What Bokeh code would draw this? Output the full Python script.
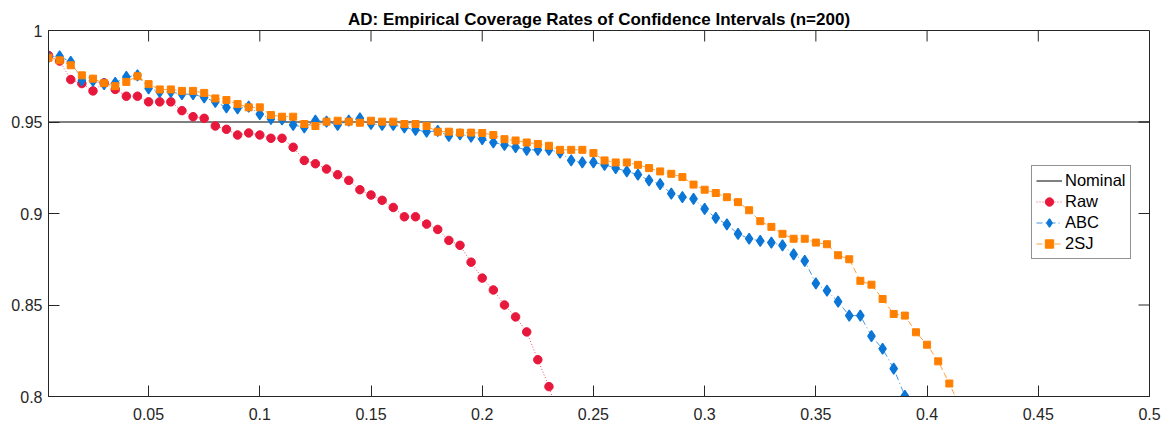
from bokeh.plotting import figure
from bokeh.models import (Range1d, FixedTicker, CustomJSTickFormatter,
                          Legend, LegendItem)
from bokeh.embed import file_html
from bokeh.resources import INLINE

# ---------------- data ----------------
alpha = [0.005, 0.01, 0.015, 0.02, 0.025, 0.03, 0.035, 0.04, 0.045, 0.05,
         0.055, 0.06, 0.065, 0.07, 0.075, 0.08, 0.085, 0.09, 0.095, 0.1,
         0.105, 0.11, 0.115, 0.12, 0.125, 0.13, 0.135, 0.14, 0.145, 0.15,
         0.155, 0.16, 0.165, 0.17, 0.175, 0.18, 0.185, 0.19, 0.195, 0.2,
         0.205, 0.21, 0.215, 0.22, 0.225, 0.23, 0.235, 0.24, 0.245, 0.25,
         0.255, 0.26, 0.265, 0.27, 0.275, 0.28, 0.285, 0.29, 0.295, 0.3,
         0.305, 0.31, 0.315, 0.32, 0.325, 0.33, 0.335, 0.34, 0.345, 0.35,
         0.355, 0.36, 0.365, 0.37, 0.375, 0.38, 0.385, 0.39, 0.395, 0.4,
         0.405, 0.41, 0.415]

raw = [0.9864, 0.9833, 0.9732, 0.9710, 0.9670, 0.9714, 0.9678, 0.9641, 0.9641, 0.9610,
       0.9610, 0.9610, 0.9562, 0.9529, 0.9520, 0.9478, 0.9460, 0.9429, 0.9440, 0.9429,
       0.9411, 0.9411, 0.9362, 0.9290, 0.9272, 0.9243, 0.9212, 0.9181, 0.9130, 0.9101,
       0.9072, 0.9033, 0.8982, 0.8982, 0.8942, 0.8913, 0.8853, 0.8826, 0.8734, 0.8647,
       0.8582, 0.8500, 0.8435, 0.8353, 0.8201, 0.8054, 0.7870]

abc = [0.9855, 0.9859, 0.9828, 0.9728, 0.9725, 0.9707, 0.9714, 0.9746, 0.9755, 0.9683,
       0.9665, 0.9665, 0.9652, 0.9652, 0.9634, 0.9610, 0.9580, 0.9574, 0.9584, 0.9543,
       0.9517, 0.9514, 0.9484, 0.9471, 0.9507, 0.9502, 0.9484, 0.9507, 0.9520, 0.9489,
       0.9484, 0.9484, 0.9471, 0.9457, 0.9447, 0.9451, 0.9424, 0.9432, 0.9420, 0.9406,
       0.9388, 0.9375, 0.9362, 0.9348, 0.9348, 0.9348, 0.9333, 0.9290, 0.9279, 0.9279,
       0.9266, 0.9248, 0.9230, 0.9212, 0.9181, 0.9160, 0.9109, 0.9090, 0.9080, 0.9025,
       0.8976, 0.8940, 0.8889, 0.8862, 0.8850, 0.8841, 0.8826, 0.8777, 0.8741, 0.8618,
       0.8578, 0.8518, 0.8442, 0.8442, 0.8330, 0.8261, 0.8152, 0.8004, 0.7850]

sj2 = [0.9851, 0.9837, 0.9810, 0.9755, 0.9737, 0.9712, 0.9696, 0.9719, 0.9750, 0.9707,
       0.9678, 0.9678, 0.9670, 0.9670, 0.9659, 0.9629, 0.9620, 0.9598, 0.9580, 0.9580,
       0.9538, 0.9529, 0.9529, 0.9489, 0.9478, 0.9502, 0.9507, 0.9502, 0.9496, 0.9507,
       0.9502, 0.9502, 0.9489, 0.9489, 0.9478, 0.9447, 0.9447, 0.9442, 0.9442, 0.9440,
       0.9429, 0.9406, 0.9399, 0.9388, 0.9380, 0.9370, 0.9348, 0.9348, 0.9348, 0.9330,
       0.9290, 0.9279, 0.9279, 0.9266, 0.9248, 0.9230, 0.9217, 0.9199, 0.9158, 0.9130,
       0.9112, 0.9089, 0.9062, 0.9018, 0.8958, 0.8927, 0.8889, 0.8862, 0.8862, 0.8841,
       0.8832, 0.8772, 0.8750, 0.8632, 0.8611, 0.8533, 0.8451, 0.8442, 0.8351, 0.8283,
       0.8192, 0.8071, 0.7940]

nominal = 0.95
x_ticks = [0.05, 0.1, 0.15, 0.2, 0.25, 0.3, 0.35, 0.4, 0.45, 0.5]
y_ticks = [0.8, 0.85, 0.9, 0.95, 1.0]
x_lim = (0.005, 0.5)
y_lim = (0.8, 1.0)
title_text = "AD: Empirical Coverage Rates of Confidence Intervals (n=200)"

RED = "#E8173C"
BLUE = "#0B76D6"
ORANGE = "#FF8000"
AX = "#262626"
FONT = "Liberation Sans"

W, H = 1169, 425
BL, BR, BT, BB = 48, 20, 30, 29
TICK = 11

p = figure(width=W, height=H, output_backend="svg", toolbar_location=None,
           x_range=Range1d(*x_lim), y_range=Range1d(*y_lim),
           min_border_left=BL, min_border_right=BR, min_border_top=BT,
           min_border_bottom=BB)
p.xgrid.visible = False
p.ygrid.visible = False
p.outline_line_color = AX
p.outline_line_width = 1
p.background_fill_color = "white"
p.border_fill_color = "white"

p.title.text = title_text
p.title.align = "center"
p.title.text_font = FONT
p.title.text_font_size = "17px"
p.title.text_font_style = "bold"
p.title.text_color = "black"
p.title.standoff = 4

fmt = CustomJSTickFormatter(code="return tick.toFixed(3).replace(/\\.?0+$/, '');")

for ax, ticks in ((p.xaxis[0], x_ticks), (p.yaxis[0], y_ticks)):
    ax.ticker = FixedTicker(ticks=ticks)
    ax.formatter = fmt
    ax.major_tick_in = TICK
    ax.major_tick_out = 0
    ax.minor_tick_in = 0
    ax.minor_tick_out = 0
    ax.axis_line_color = AX
    ax.major_tick_line_color = AX
    ax.major_label_text_font = FONT
    ax.major_label_text_font_size = "16px"
    ax.major_label_text_color = AX
p.xaxis[0].major_label_standoff = 11
p.yaxis[0].major_label_standoff = 6

# mirrored inward ticks on the top and right edges of the box
frame_w = W - BL - BR
frame_h = H - BT - BB
dy = (y_lim[1] - y_lim[0]) * TICK / frame_h
dx = (x_lim[1] - x_lim[0]) * TICK / frame_w
top_x = [t for t in x_ticks if x_lim[0] < t < x_lim[1]]
p.segment(x0=top_x, y0=[y_lim[1]] * len(top_x), x1=top_x, y1=[y_lim[1] - dy] * len(top_x),
          line_color=AX, line_width=1)
right_y = [t for t in y_ticks if y_lim[0] < t < y_lim[1]]
p.segment(x0=[x_lim[1]] * len(right_y), y0=right_y, x1=[x_lim[1] - dx] * len(right_y), y1=right_y,
          line_color=AX, line_width=1)

# Nominal
r_nom = p.line([x_lim[0], x_lim[1]], [nominal, nominal], line_color="black", line_width=1)

# Raw
xr = alpha[:len(raw)]
r_raw_l = p.line(xr, raw, line_color=RED, line_width=1, line_dash="1 2", line_alpha=0.75)
r_raw_m = p.scatter(xr, raw, marker="circle", size=8.5, fill_color=RED, line_color=RED)

# ABC
xa = alpha[:len(abc)]
r_abc_l = p.line(xa, abc, line_color=BLUE, line_width=1, line_dash="6 3 1 3", line_alpha=0.75)
r_abc_m = p.scatter(xa, abc, marker="diamond", size=11, fill_color=BLUE, line_color=BLUE,
                    line_width=1.3)

# 2SJ
xs = alpha[:len(sj2)]
r_sj_l = p.line(xs, sj2, line_color=ORANGE, line_width=1, line_dash="6 3", line_alpha=0.75)
r_sj_m = p.scatter(xs, sj2, marker="square", size=7, fill_color=ORANGE, line_color=ORANGE)

legend = Legend(items=[
    LegendItem(label="Nominal", renderers=[r_nom]),
    LegendItem(label="Raw", renderers=[r_raw_l, r_raw_m]),
    LegendItem(label="ABC", renderers=[r_abc_l, r_abc_m]),
    LegendItem(label="2SJ", renderers=[r_sj_l, r_sj_m]),
], location=(983, 137))
legend.label_text_font = FONT
legend.label_text_font_size = "16.5px"
legend.label_text_color = "black"
legend.glyph_width = 26
legend.glyph_height = 21
legend.label_height = 21
legend.label_standoff = 3
legend.spacing = 0
legend.padding = 4
legend.margin = 0
legend.border_line_color = AX
legend.border_line_width = 1
legend.background_fill_alpha = 1
p.add_layout(legend, "center")

open("out.html", "w").write(file_html(p, INLINE))
